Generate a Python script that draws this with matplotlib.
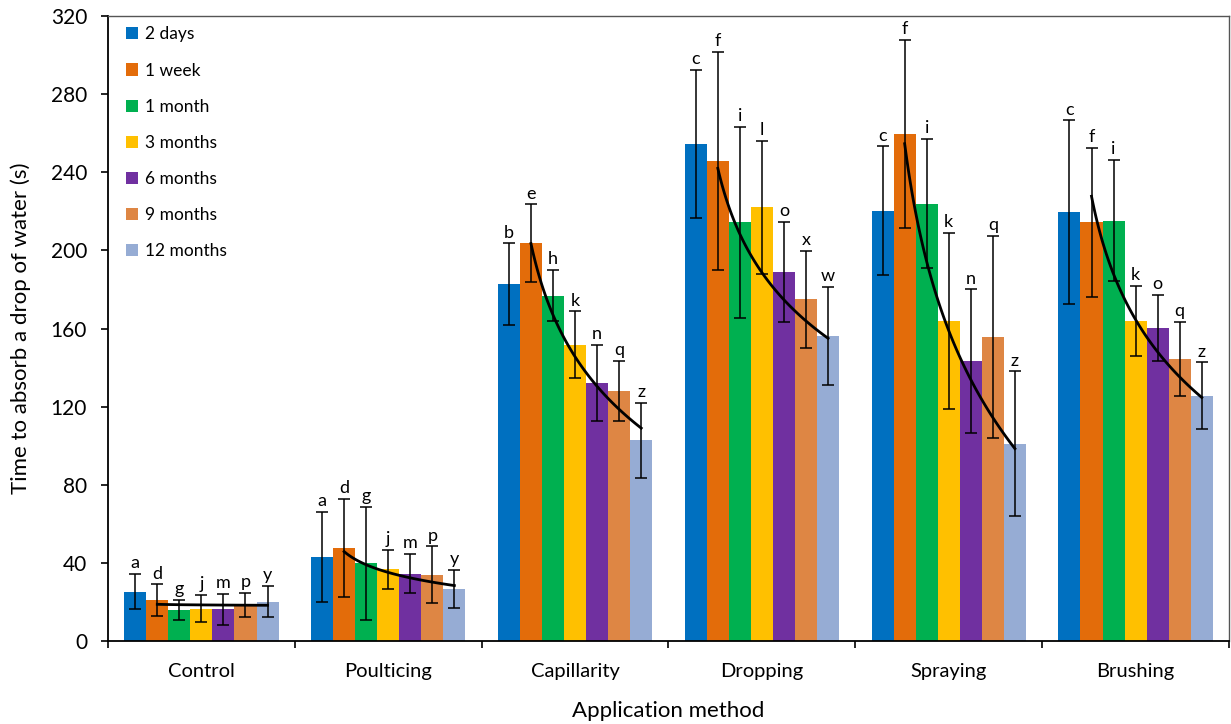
import numpy as np
import matplotlib.pyplot as plt

plt.rcParams['font.family'] = ['Lato', 'DejaVu Sans']

groups = ['Control', 'Poulticing', 'Capillarity', 'Dropping', 'Spraying', 'Brushing']
periods = ['2 days', '1 week', '1 month', '3 months', '6 months', '9 months', '12 months']
colors = ['#0070C0', '#E36C0A', '#00B050', '#FFC000', '#7030A0', '#DE8644', '#96ACD4']

# mean time per group (one value per period)
control = [25.3, 21.0, 15.9, 16.6, 16.2, 18.5, 20.2]
poulticing = [43.2, 47.7, 39.7, 36.8, 34.5, 34.0, 26.7]
capillarity = [182.6, 203.6, 176.9, 151.8, 132.1, 128.0, 102.7]
dropping = [254.4, 245.8, 214.4, 222.0, 188.9, 174.9, 156.3]
spraying = [220.2, 259.7, 223.9, 164.0, 143.3, 155.7, 101.1]
brushing = [219.5, 214.3, 215.2, 163.7, 160.2, 144.4, 125.7]

# standard deviations
control_err = [9, 8, 5, 7, 8, 6, 8]
poulticing_err = [23, 25, 29, 10, 10, 14.5, 9.7]
capillarity_err = [21, 20, 13, 17, 19.5, 15.6, 19.4]
dropping_err = [38, 56, 49, 34, 25.6, 25, 25]
spraying_err = [33, 48, 33, 45, 36.7, 51.7, 37]
brushing_err = [47, 38, 31, 18, 17, 19, 17]

# significance letters
control_lbl = ['a', 'd', 'g', 'j', 'm', 'p', 'y']
poulticing_lbl = ['a', 'd', 'g', 'j', 'm', 'p', 'y']
capillarity_lbl = ['b', 'e', 'h', 'k', 'n', 'q', 'z']
dropping_lbl = ['c', 'f', 'i', 'l', 'o', 'x', 'w']
spraying_lbl = ['c', 'f', 'i', 'k', 'n', 'q', 'z']
brushing_lbl = ['c', 'f', 'i', 'k', 'o', 'q', 'z']

# logarithmic trendline, value at 1 week and at 12 months
trend_start = [18.8, 45.8, 203.5, 242.0, 254.6, 227.7]
trend_end = [18.3, 28.4, 109.0, 155.0, 98.5, 124.7]

means = np.array([control, poulticing, capillarity, dropping, spraying, brushing])
errs = np.array([control_err, poulticing_err, capillarity_err, dropping_err, spraying_err, brushing_err])
letters = [control_lbl, poulticing_lbl, capillarity_lbl, dropping_lbl, spraying_lbl, brushing_lbl]

fig = plt.figure(figsize=(12.31, 7.24), dpi=100)
ax = fig.add_axes([0.0877, 0.1146, 0.9107, 0.8633])

x = np.arange(len(groups))
w = 0.118
offsets = (np.arange(7) - 3) * w

for j, per in enumerate(periods):
    ax.bar(x + offsets[j], means[:, j], width=w, color=colors[j], label=per, zorder=2)
    ax.errorbar(x + offsets[j], means[:, j], yerr=errs[:, j], fmt='none', ecolor='black',
                elinewidth=1.1, capsize=4.5, capthick=1.1, zorder=3)
    for i in range(len(groups)):
        ax.annotate(letters[i][j], (x[i] + offsets[j], means[i, j] + errs[i, j]),
                    xytext=(0, 2), textcoords='offset points', ha='center', va='bottom',
                    fontsize=13)

# trendlines from 1 week to 12 months
t = np.linspace(1, 6, 100)
for i in range(len(groups)):
    yy = trend_start[i] + (trend_end[i] - trend_start[i]) * np.log(t) / np.log(6)
    xx = x[i] + offsets[1] + (t - 1) * w
    ax.plot(xx, yy, color='black', lw=2, zorder=4)

ax.set_xlim(-0.5, 5.5)
ax.set_ylim(0, 320)
ax.set_yticks(np.arange(0, 321, 40))
ax.set_xticks(np.arange(-0.5, 6, 1))
ax.set_xticklabels([])
ax.set_xticks(x, minor=True)
ax.set_xticklabels(groups, minor=True, fontsize=14.5)
ax.tick_params(axis='x', which='minor', length=0, pad=16)
ax.tick_params(axis='x', which='major', direction='out', length=5, width=1.2)
ax.tick_params(axis='y', direction='out', length=5, width=1.2, labelsize=15, pad=10)

for s in ['left', 'bottom']:
    ax.spines[s].set_linewidth(1.3)
for s in ['top', 'right']:
    ax.spines[s].set_color('#555555')
    ax.spines[s].set_linewidth(1)

ax.set_xlabel('Application method', fontsize=16, labelpad=15)
ax.set_ylabel('Time to absorb a drop of water (s)', fontsize=16, labelpad=14)

ax.legend(loc='upper left', frameon=False, fontsize=12.5, handlelength=0.7, handleheight=0.7,
          handletextpad=0.4, labelspacing=1.16, borderaxespad=0.2, bbox_to_anchor=(0.007, 1.0))

plt.savefig('out.png', dpi=100)
